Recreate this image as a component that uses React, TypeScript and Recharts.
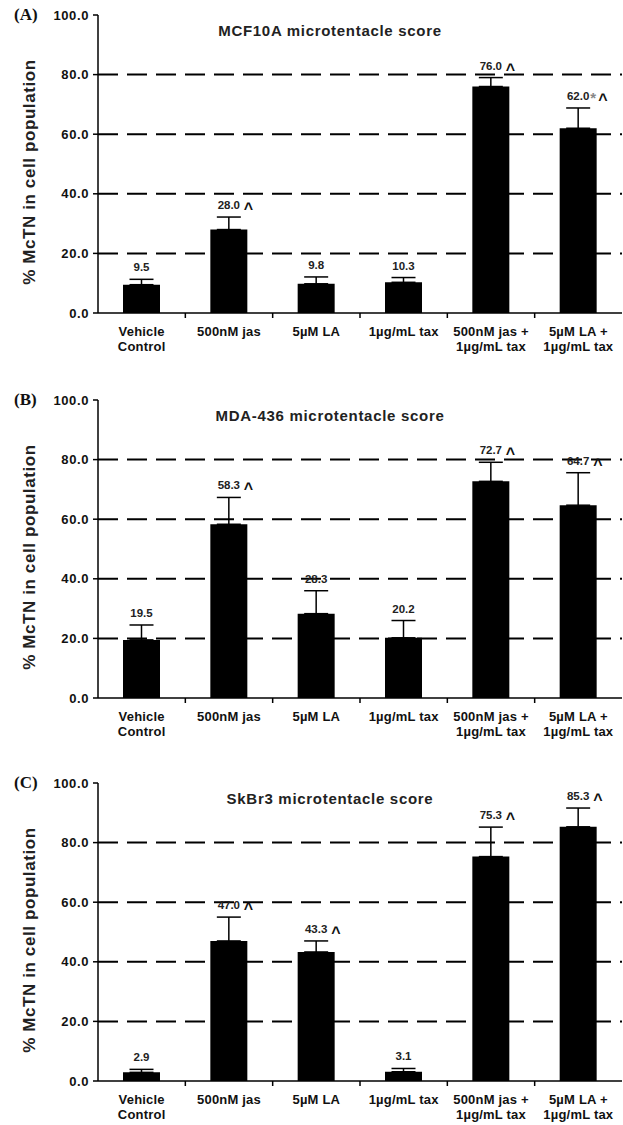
import React from "react";
import {
  BarChart,
  Bar,
  XAxis,
  YAxis,
  ErrorBar,
  ReferenceLine,
  LabelList,
} from "recharts";

// shared axis content
const categories = [
  "Vehicle\nControl",
  "500nM jas",
  "5µM LA",
  "1µg/mL tax",
  "500nM jas +\n1µg/mL tax",
  "5µM LA +\n1µg/mL tax",
];
const yTicks = [0, 20, 40, 60, 80, 100];
const dashedLevels = [20, 40, 60, 80];

// (A) MCF10A
const mcf10aValues = [9.5, 28.0, 9.8, 10.3, 76.0, 62.0];
const mcf10aErrors = [1.8, 4.2, 2.3, 1.6, 3.0, 6.8];
const mcf10aMarks = ["", "^", "", "", "^", "*^"];

// (B) MDA-436
const mda436Values = [19.5, 58.3, 28.3, 20.2, 72.7, 64.7];
const mda436Errors = [5.0, 9.0, 7.7, 5.8, 6.4, 10.9];
const mda436Marks = ["", "^", "", "", "^", "^"];

// (C) SkBr3
const skbr3Values = [2.9, 47.0, 43.3, 3.1, 75.3, 85.3];
const skbr3Errors = [1.0, 8.0, 3.7, 1.1, 9.9, 6.3];
const skbr3Marks = ["", "^", "^", "", "^", "^"];

const panels = [
  { letter: "(A)", title: "MCF10A microtentacle score", values: mcf10aValues, errors: mcf10aErrors, marks: mcf10aMarks },
  { letter: "(B)", title: "MDA-436 microtentacle score", values: mda436Values, errors: mda436Errors, marks: mda436Marks },
  { letter: "(C)", title: "SkBr3 microtentacle score", values: skbr3Values, errors: skbr3Errors, marks: skbr3Marks },
];

const W = 623;
const H = 385;
const PANEL_TOPS = [0, 385, 768];
const AXIS_W = 98;
const X_AXIS_H = 72;
const MARGIN = { top: 15, right: 1, bottom: 0, left: 0 };
const BAND = (W - AXIS_W - MARGIN.right) / categories.length;
const FONT = "'Liberation Sans', Arial, sans-serif";

const CategoryTick = ({ x, y, payload }: any) => {
  const lines = String(payload.value).split("\n");
  return (
    <g>
      {payload.index > 0 && (
        <line x1={x - BAND / 2} x2={x - BAND / 2} y1={y - 8} y2={y - 3} stroke="#000" strokeWidth={1.5} />
      )}
      <text
        x={x}
        y={y + 15}
        textAnchor="middle"
        fontFamily={FONT}
        fontWeight="bold"
        fontSize={13}
        letterSpacing={0.2}
        fill="#111"
      >
        {lines.map((l, i) => (
          <tspan key={i} x={x} dy={i === 0 ? 0 : 15}>
            {l}
          </tspan>
        ))}
      </text>
    </g>
  );
};

function makeValueLabel(errors: number[], marks: string[]) {
  return (props: any) => {
    const { x, y, width, height, index, value } = props;
    const cx = x + width / 2;
    const errPx = value ? (errors[index] * height) / value : 0;
    const base = y - errPx - 8;
    const mark = marks[index];
    const star = mark.includes("*");
    const caret = mark.includes("^");
    return (
      <g fontFamily={FONT} fontWeight="bold">
        <text x={cx} y={base} textAnchor="middle" fontSize={11.5} fill="#222">
          {Number(value).toFixed(1)}
        </text>
        {star && (
          <text x={cx + 12} y={base + 3} textAnchor="start" fontSize={15} fill="#888">
            *
          </text>
        )}
        {caret && (
          <text x={cx + (star ? 20 : 15)} y={base + 5} textAnchor="start" fontSize={16} fill="#111">
            ^
          </text>
        )}
      </g>
    );
  };
}

function Panel({ panel, top }: any) {
  const data = categories.map((c, i) => ({
    name: c,
    value: panel.values[i],
    err: [0, panel.errors[i]],
  }));
  const plotH = H - MARGIN.top - MARGIN.bottom - X_AXIS_H;
  return (
    <div style={{ position: "absolute", left: 0, top, width: W, height: H }}>
      <BarChart width={W} height={H} data={data} margin={MARGIN} barCategoryGap={0}>
        {dashedLevels.map((v) => (
          <ReferenceLine key={v} y={v} stroke="#000" strokeWidth={2} strokeDasharray="20 9" />
        ))}
        <XAxis
          dataKey="name"
          interval={0}
          axisLine={{ stroke: "#000", strokeWidth: 1.5 }}
          tickLine={false}
          tick={<CategoryTick />}
          height={X_AXIS_H}
        />
        <YAxis
          domain={[0, 100]}
          ticks={yTicks}
          width={AXIS_W}
          tickFormatter={(v: number) => v.toFixed(1)}
          axisLine={{ stroke: "#000", strokeWidth: 1.5 }}
          tickLine={{ stroke: "#000", strokeWidth: 1.5 }}
          tickSize={5}
          tickMargin={4}
          tick={{ fill: "#111", fontFamily: FONT, fontWeight: "bold", fontSize: 13, letterSpacing: 0.6 }}
        />
        <Bar dataKey="value" fill="#000" barSize={37} isAnimationActive={false}>
          <ErrorBar dataKey="err" direction="y" width={12} stroke="#000" strokeWidth={1.5} isAnimationActive={false} />
          <LabelList dataKey="value" content={makeValueLabel(panel.errors, panel.marks)} />
        </Bar>
      </BarChart>
      <div
        style={{
          position: "absolute",
          left: 14,
          top: MARGIN.top - 10,
          fontFamily: "'Liberation Serif', 'Times New Roman', serif",
          fontWeight: "bold",
          fontSize: 17,
          lineHeight: "20px",
          color: "#111",
        }}
      >
        {panel.letter}
      </div>
      <div
        style={{
          position: "absolute",
          left: 330,
          top: MARGIN.top + 15,
          transform: "translate(-50%, -50%)",
          whiteSpace: "nowrap",
          fontFamily: FONT,
          fontWeight: "bold",
          fontSize: 15,
          letterSpacing: 0.7,
          color: "#222",
        }}
      >
        {panel.title}
      </div>
      <div
        style={{
          position: "absolute",
          left: 30,
          top: MARGIN.top + plotH / 2 + 8,
          transform: "translate(-50%, -50%) rotate(-90deg)",
          whiteSpace: "nowrap",
          fontFamily: FONT,
          fontWeight: "bold",
          fontSize: 17,
          letterSpacing: 0.6,
          color: "#222",
        }}
      >
        % McTN in cell population
      </div>
    </div>
  );
}

export default function App() {
  return (
    <div style={{ position: "absolute", left: 0, top: 0, width: W, height: 1125, background: "#fff" }}>
      {panels.map((p, i) => (
        <Panel key={p.letter} panel={p} top={PANEL_TOPS[i]} />
      ))}
    </div>
  );
}
